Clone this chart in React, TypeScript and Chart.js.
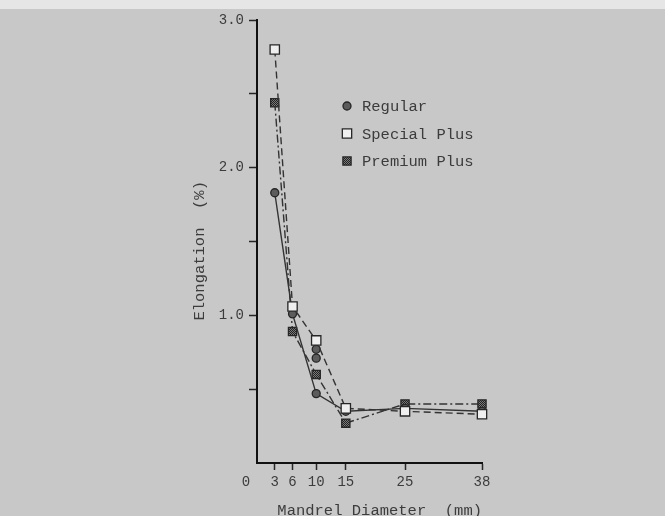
import React, { useEffect, useRef } from 'react';
import { Chart, registerables } from 'chart.js';

Chart.register(...registerables);

// ---- data ----
const diameters = [3, 6, 10, 15, 25, 38];
const regular = [1.83, 1.01, 0.47, 0.35, 0.37, 0.35];
const specialPlus = [2.8, 1.06, 0.83, 0.37, 0.35, 0.33];
const premiumPlus = [2.44, 0.89, 0.6, 0.27, 0.4, 0.4];
// additional Regular readings plotted at 10 mm (markers only)
const regularRepeatX = [10, 10];
const regularRepeatY = [0.77, 0.71];

const seriesNames = ['Regular', 'Special Plus', 'Premium Plus'];
const xTickValues = [3, 6, 10, 15, 25, 38];
const yTickValues = [0, 0.5, 1, 1.5, 2, 2.5, 3];
const yTickLabels = ['', '', '1.0', '', '2.0', '', '3.0'];
const originLabel = '0';
const xTitle = 'Mandrel Diameter  (mm)';
const yTitle = 'Elongation  (%)  ';

const FONT = '"Liberation Mono", "DejaVu Sans Mono", monospace';
const INK = '#262626';
const TEXT = '#3c3c3c';

const pts = (xs: number[], ys: number[]) => xs.map((x, i) => ({ x, y: ys[i] }));

export default function App() {
  const ref = useRef<HTMLCanvasElement>(null);

  useEffect(() => {
    const canvas = ref.current!;
    const pc = document.createElement('canvas');
    pc.width = 2;
    pc.height = 2;
    const p = pc.getContext('2d')!;
    p.fillStyle = '#7a7a7a';
    p.fillRect(0, 0, 2, 2);
    p.fillStyle = '#222';
    p.fillRect(0, 0, 1, 1);
    p.fillRect(1, 1, 1, 1);
    const hatch = canvas.getContext('2d')!.createPattern(pc, 'repeat') as any;

    const styles = [
      { pointStyle: 'circle', radius: 4, fill: '#5c5c5c', dash: [] as number[], order: 1 },
      { pointStyle: 'rect', radius: 6.6, fill: '#efefef', dash: [7, 4], order: 0 },
      { pointStyle: 'rect', radius: 5.8, fill: hatch, dash: [8, 3, 2, 3], order: 2 },
    ];

    const mkLine = (label: string, data: number[], i: number) => ({
      label,
      data: pts(diameters, data),
      showLine: true,
      clip: false,
      order: styles[i].order,
      borderColor: '#333',
      borderWidth: 1.4,
      borderDash: styles[i].dash,
      pointStyle: styles[i].pointStyle,
      pointRadius: styles[i].radius,
      pointBackgroundColor: styles[i].fill,
      pointBorderColor: INK,
      pointBorderWidth: 1.3,
      tension: 0,
    });

    const legendPlugin = {
      id: 'manualLegend',
      afterDraw(chart: any) {
        const ctx = chart.ctx as CanvasRenderingContext2D;
        const xs = chart.scales.x;
        ctx.save();
        // origin label shared by both axes
        ctx.font = `14px ${FONT}`;
        ctx.fillStyle = TEXT;
        ctx.textAlign = 'center';
        ctx.textBaseline = 'middle';
        ctx.fillText(originLabel, xs.getPixelForValue(0) - 11, chart.chartArea.bottom + 19);

        // legend
        const mx = 347;
        const rows = [106, 133.5, 161];
        ctx.font = `15.5px ${FONT}`;
        ctx.textAlign = 'left';
        for (let i = 0; i < 3; i++) {
          const y = rows[i];
          const s = styles[i];
          ctx.beginPath();
          if (s.pointStyle === 'circle') {
            ctx.arc(mx, y, s.radius, 0, Math.PI * 2);
          } else {
            const h = Math.SQRT1_2 * s.radius;
            ctx.rect(mx - h, y - h, 2 * h, 2 * h);
          }
          ctx.fillStyle = s.fill;
          ctx.fill();
          ctx.lineWidth = 1.3;
          ctx.strokeStyle = INK;
          ctx.stroke();
          ctx.fillStyle = TEXT;
          ctx.fillText(seriesNames[i], 362, y + 1);
        }
        ctx.restore();
      },
    };

    const chart = new Chart(canvas, {
      type: 'scatter',
      data: {
        datasets: [
          mkLine(seriesNames[0], regular, 0),
          mkLine(seriesNames[1], specialPlus, 1),
          mkLine(seriesNames[2], premiumPlus, 2),
          {
            label: 'Regular (repeat)',
            data: pts(regularRepeatX, regularRepeatY),
            showLine: false,
            clip: false,
            order: 1,
            pointStyle: 'circle',
            pointRadius: 4,
            pointBackgroundColor: '#5c5c5c',
            pointBorderColor: INK,
            pointBorderWidth: 1.3,
          },
        ] as any,
      },
      options: {
        animation: false,
        responsive: false,
        devicePixelRatio: 1,
        events: [],
        layout: { padding: { left: 187, right: 183, top: 20, bottom: 0 } },
        plugins: { legend: { display: false }, tooltip: { enabled: false } },
        scales: {
          x: {
            type: 'linear',
            min: 0,
            max: 38,
            afterBuildTicks: (s: any) => {
              s.ticks = xTickValues.map((v) => ({ value: v }));
            },
            afterFit: (s: any) => {
              s.height = 61;
            },
            ticks: {
              autoSkip: false,
              maxRotation: 0,
              padding: 4,
              color: TEXT,
              font: { family: FONT, size: 14 },
              callback: (v: any) => String(v),
            },
            grid: {
              drawOnChartArea: false,
              drawTicks: true,
              tickLength: 7,
              tickColor: INK,
              tickWidth: 1.5,
            },
            border: { color: '#111', width: 2 },
            title: {
              display: true,
              text: xTitle,
              align: 'end',
              color: TEXT,
              font: { family: FONT, size: 15.5 },
              padding: { top: 0, bottom: 4 },
            },
          },
          y: {
            type: 'linear',
            min: 0,
            max: 3,
            afterBuildTicks: (s: any) => {
              s.ticks = yTickValues.map((v) => ({ value: v }));
            },
            afterFit: (s: any) => {
              s.width = 70;
            },
            ticks: {
              padding: 5,
              color: TEXT,
              font: { family: FONT, size: 14 },
              callback: (v: any) => {
                const i = yTickValues.indexOf(Number(v));
                return i >= 0 ? yTickLabels[i] : '';
              },
            },
            grid: {
              drawOnChartArea: false,
              drawTicks: true,
              tickLength: 8,
              tickWidth: 1.5,
              tickColor: (c: any) => (c.tick && c.tick.value === 0 ? 'rgba(0,0,0,0)' : INK),
            },
            border: { color: '#111', width: 2 },
            title: {
              display: true,
              text: yTitle,
              color: TEXT,
              font: { family: FONT, size: 15.5 },
              padding: { top: 4, bottom: 0 },
            },
          },
        },
      } as any,
      plugins: [legendPlugin],
    });

    return () => chart.destroy();
  }, []);

  return (
    <div
      style={{
        position: 'fixed',
        left: 0,
        top: 0,
        width: 665,
        height: 516,
        overflow: 'hidden',
        background: 'linear-gradient(#e6e6e6 0px, #e6e6e6 9px, #c8c8c8 9px, #c8c8c8 100%)',
      }}
    >
      <canvas ref={ref} width={665} height={524} style={{ display: 'block', width: 665, height: 524 }} />
    </div>
  );
}
